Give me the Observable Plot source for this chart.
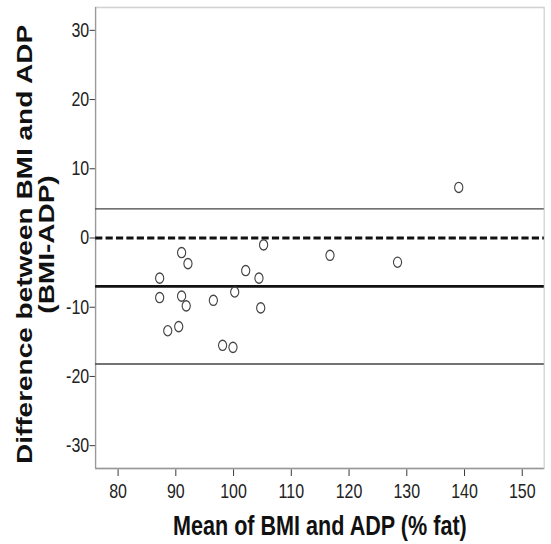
<!DOCTYPE html>
<html>
<head>
<meta charset="utf-8">
<script src="https://cdn.jsdelivr.net/npm/d3@7"></script>
<script src="https://cdn.jsdelivr.net/npm/@observablehq/plot@0.6"></script>
<style>
  html, body { margin: 0; padding: 0; background: #fff; overflow: hidden; }
  #chart { width: 551px; height: 544px; }
</style>
</head>
<body>
<div id="chart"></div>
<script>
// Bland–Altman agreement between BMI-based and ADP-based body fat estimates
const meanPct = [87.2, 87.2, 91.0, 92.1, 91.0, 91.8, 88.6, 90.5, 96.5, 100.2,
                 98.1, 99.9, 102.1, 104.4, 104.7, 105.2, 116.7, 128.4, 139.0];
const diffPct = [-5.8, -8.6, -2.1, -3.7, -8.4, -9.8, -13.4, -12.8, -9.0, -7.8,
                 -15.5, -15.8, -4.7, -5.8, -10.1, -1.0, -2.5, -3.5, 7.3];

// Mean difference (bias) and 95% limits of agreement
const biasMean = -7.0;
const upperLimit = 4.2;
const lowerLimit = -18.2;
const zeroLine = 0;

const xTicks = [80, 90, 100, 110, 120, 130, 140, 150];
const yTicks = [-30, -20, -10, 0, 10, 20, 30];
const xTitle = "Mean of BMI and ADP (% fat)";
const yTitle = ["Difference between BMI and ADP", "(BMI-ADP)"];

const points = meanPct.map((m, i) => ({mean: m, diff: diffPct[i]}));
const xDomain = [76.1, 153.8];
const yDomain = [-33.3, 33.3];
const font = "'Liberation Sans', Arial, Helvetica, sans-serif";

// Drawn on a wider canvas, then fitted to the page width
const W = 689, H = 544;

const svg = Plot.plot({
  width: W,
  height: H,
  marginLeft: 119,
  marginRight: 9,
  marginTop: 7,
  marginBottom: 76,
  style: {fontFamily: font, fontSize: "20px", color: "#222", background: "#fff"},
  x: {domain: xDomain, ticks: xTicks, tickSize: 8, tickPadding: 7, label: null, tickFormat: d => String(d)},
  y: {domain: yDomain, ticks: yTicks, tickSize: 7, tickPadding: 1, label: null, tickFormat: d => String(d)},
  marks: [
    Plot.frame({stroke: "#d2d2d2", strokeWidth: 1.6}),
    Plot.ruleX([xDomain[0]], {stroke: "#999", strokeWidth: 1.6}),
    Plot.ruleY([yDomain[0]], {stroke: "#999", strokeWidth: 1.6}),
    Plot.ruleY([upperLimit, lowerLimit], {stroke: "#444", strokeWidth: 1.3}),
    Plot.ruleY([biasMean], {stroke: "#111", strokeWidth: 2.8}),
    Plot.ruleY([zeroLine], {stroke: "#111", strokeWidth: 2.8, strokeDasharray: "9,4"}),
    Plot.dot(points, {x: "mean", y: "diff", r: 5.1, stroke: "#444", strokeWidth: 1.4, fill: "none"}),
    Plot.text([xTitle], {
      text: d => d, frameAnchor: "bottom", dy: 66, lineAnchor: "bottom",
      fontSize: 27, fontWeight: "bold", fill: "#111"
    }),
    Plot.text([yTitle.join("\n")], {
      text: d => d, frameAnchor: "left", dx: -74.5, dy: 6.5, rotate: -90,
      textAnchor: "middle", lineAnchor: "middle", lineHeight: 1,
      fontSize: 28, fontWeight: "bold", fill: "#111"
    })
  ]
});

svg.setAttribute("preserveAspectRatio", "none");
svg.style.width = "551px";
svg.style.height = "544px";
svg.style.maxWidth = "none";
document.getElementById("chart").appendChild(svg);
</script>
</body>
</html>
